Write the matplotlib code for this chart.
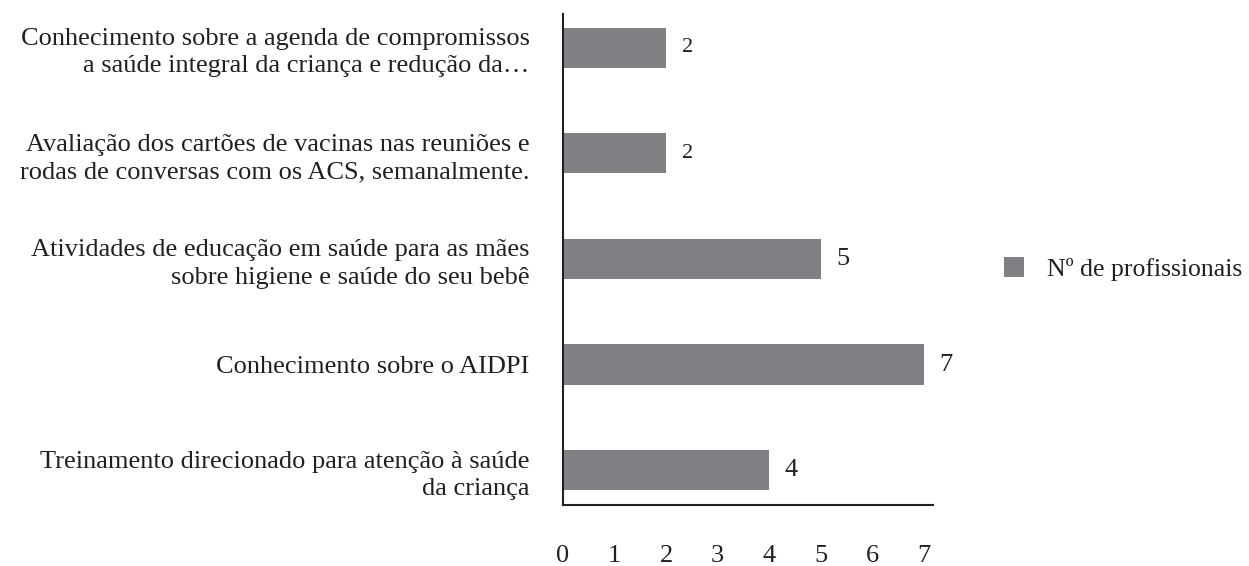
import matplotlib
matplotlib.use("Agg")
import matplotlib.pyplot as plt
from matplotlib.patches import Patch

plt.rcParams['font.family'] = ['Liberation Serif', 'DejaVu Serif']

categories = [
    "Conhecimento sobre a agenda de compromissos\na saúde integral da criança e redução da…",
    "Avaliação dos cartões de vacinas nas reuniões e\nrodas de conversas com os ACS, semanalmente.",
    "Atividades de educação em saúde para as mães\nsobre higiene e saúde do seu bebê",
    "Conhecimento sobre o AIDPI",
    "Treinamento direcionado para atenção à saúde\nda criança",
]
values = [2, 2, 5, 7, 4]
label_sizes = [16, 16, 19, 19, 19]
xticks = [0, 1, 2, 3, 4, 5, 6, 7]
series_name = "Nº de profissionais"

bar_color = "#808184"
text_color = "#231f20"

fig = plt.figure(figsize=(12.49, 5.66), dpi=100)
ax = fig.add_axes([0.4508, 0.1078, 0.2962, 0.8675])

ypos = list(range(len(categories)))
ax.barh(ypos, values, height=0.38, color=bar_color)
ax.set_ylim(len(categories) - 1 + 0.33, -0.32)
ax.set_xlim(0, 7.18)

for y, v, s in zip(ypos, values, label_sizes):
    ax.text(v + 0.3, y, str(v), va='center', ha='left', fontsize=s, color=text_color)

ax.set_yticks(ypos)
ax.set_yticklabels(categories, fontsize=19, color=text_color, linespacing=1.3)
ax.set_xticks(xticks)
ax.set_xticklabels([str(t) for t in xticks], fontsize=19, color=text_color)
ax.tick_params(axis='y', length=0, pad=24)
ax.tick_params(axis='x', length=0, pad=29)

for side in ['top', 'right']:
    ax.spines[side].set_visible(False)
for side in ['left', 'bottom']:
    ax.spines[side].set_color(text_color)
    ax.spines[side].set_linewidth(1.5)

handle = Patch(facecolor=bar_color, edgecolor='none', label=series_name)
fig.legend(handles=[handle], loc='center left', bbox_to_anchor=(0.785, 0.525),
           frameon=False, fontsize=18.5, handlelength=0.8, handleheight=0.8,
           handletextpad=0.9, labelcolor=text_color)

fig.savefig("out.png", dpi=100)
